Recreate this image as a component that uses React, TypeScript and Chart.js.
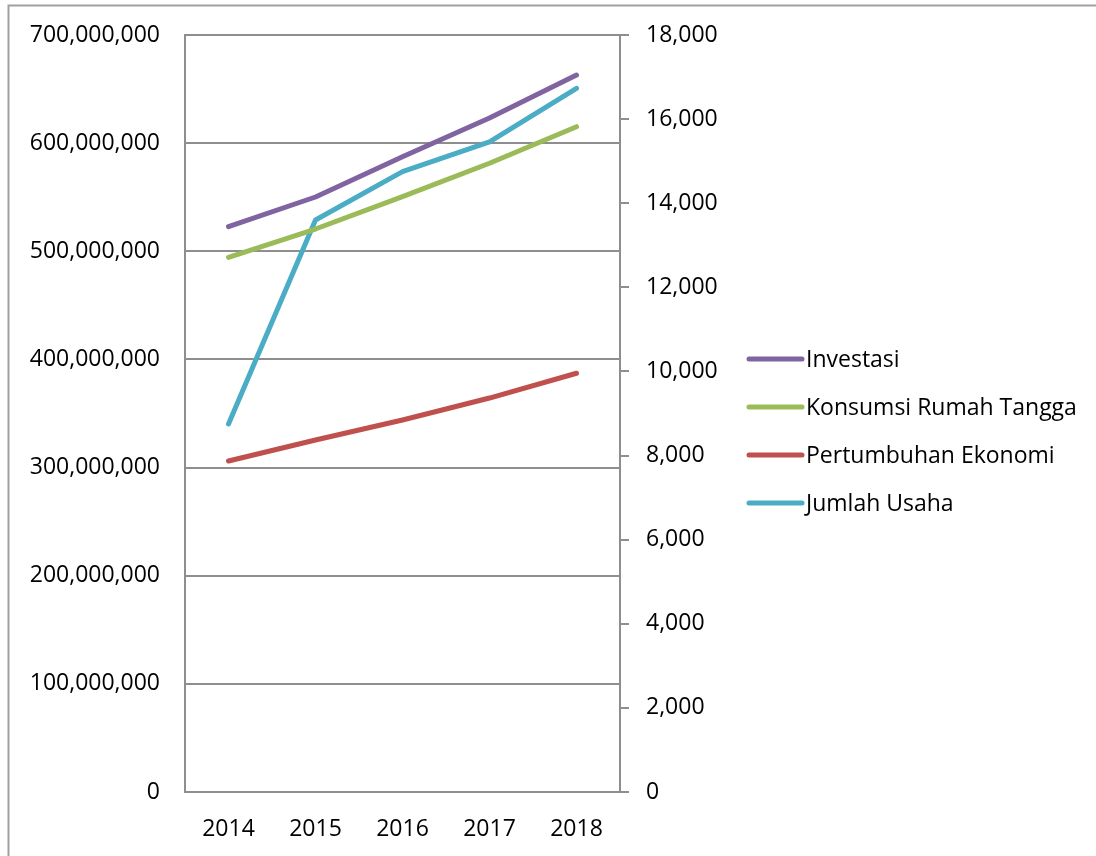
import React, { useEffect, useRef } from "react";
import { Chart, registerables } from "chart.js";

Chart.register(...registerables);

const years = ["2014", "2015", "2016", "2017", "2018"];
const investasi = [522700000, 550200000, 587500000, 623300000, 663000000];
const konsumsi = [494400000, 520600000, 550500000, 581400000, 615200000];
const pertumbuhan = [306100000, 325500000, 344000000, 364300000, 387200000];
const jumlahUsaha = [8750, 13600, 14750, 15460, 16730];

const seriesNames = ["Investasi", "Konsumsi Rumah Tangga", "Pertumbuhan Ekonomi", "Jumlah Usaha"];
const seriesColors = ["#8064A2", "#9BBB59", "#C0504D", "#4BACC6"];

const FONT = "'Open Sans', 'Noto Sans', sans-serif";
const GRID = "#8e8e8e";

const fmt = (v: number) => Number(v).toLocaleString("en-US");

const framePlugin = {
  id: "frame",
  beforeDraw(chart: any) {
    const ctx = chart.ctx;
    ctx.save();
    ctx.fillStyle = "#ffffff";
    ctx.fillRect(0, 0, chart.width, chart.height);
    ctx.strokeStyle = "#a0a0a0";
    ctx.lineWidth = 2;
    ctx.strokeRect(8.5, 5.5, chart.width + 20, chart.height + 20);
    ctx.restore();
  },
};

const legendPlugin = {
  id: "customLegend",
  afterDraw(chart: any) {
    const ctx = chart.ctx;
    ctx.save();
    const x0 = 749;
    const x1 = 802;
    const top = 359;
    const gap = 48;
    ctx.font = `23px ${FONT}`;
    ctx.textBaseline = "middle";
    ctx.textAlign = "left";
    chart.data.datasets.forEach((ds: any, i: number) => {
      const y = top + i * gap;
      ctx.strokeStyle = ds.borderColor;
      ctx.lineWidth = 5;
      ctx.lineCap = "round";
      ctx.beginPath();
      ctx.moveTo(x0, y);
      ctx.lineTo(x1, y);
      ctx.stroke();
      ctx.fillStyle = "#000000";
      ctx.fillText(ds.label, 806, y + 1);
    });
    ctx.restore();
  },
};

const noPadV = (w: number) => (scale: any) => {
  scale.width = w;
  scale.paddingTop = 0;
  scale.paddingBottom = 0;
};

export default function App() {
  const canvasRef = useRef<HTMLCanvasElement | null>(null);

  useEffect(() => {
    document.body.style.margin = "0";
    document.body.style.overflow = "hidden";
    const canvas = canvasRef.current;
    if (!canvas) return;
    const mk = (label: string, data: number[], color: string, axis: string) => ({
      label,
      data,
      borderColor: color,
      backgroundColor: color,
      borderWidth: 5,
      borderCapStyle: "round",
      borderJoinStyle: "round",
      pointRadius: 0,
      pointHoverRadius: 0,
      tension: 0,
      yAxisID: axis,
    });
    const chart = new Chart(canvas, {
      type: "line",
      data: {
        labels: years,
        datasets: [
          mk(seriesNames[0], investasi, seriesColors[0], "y"),
          mk(seriesNames[1], konsumsi, seriesColors[1], "y"),
          mk(seriesNames[2], pertumbuhan, seriesColors[2], "y"),
          mk(seriesNames[3], jumlahUsaha, seriesColors[3], "y1"),
        ] as any,
      },
      options: {
        responsive: false,
        animation: false,
        events: [],
        layout: {
          autoPadding: false,
          padding: { top: 35, left: 0, right: 326, bottom: 0 },
        } as any,
        plugins: {
          legend: { display: false },
          tooltip: { enabled: false },
        },
        scales: {
          x: {
            type: "category",
            offset: true,
            grid: { display: false, drawTicks: false },
            border: { display: true, color: GRID, width: 2 },
            ticks: {
              color: "#000000",
              font: { family: FONT, size: 23 },
              padding: 24,
              maxRotation: 0,
            },
            afterFit(scale: any) {
              scale.height = 64;
              scale.paddingLeft = 0;
              scale.paddingRight = 0;
            },
          },
          y: {
            type: "linear",
            position: "left",
            min: 0,
            max: 700000000,
            grid: { color: GRID, lineWidth: 2, drawTicks: false },
            border: { display: true, color: GRID, width: 2 },
            ticks: {
              stepSize: 100000000,
              color: "#000000",
              font: { family: FONT, size: 23 },
              padding: 25,
              callback: (v: any) => fmt(v),
            },
            afterFit: noPadV(185),
          },
          y1: {
            type: "linear",
            position: "right",
            min: 0,
            max: 18000,
            grid: { drawOnChartArea: false, color: GRID, lineWidth: 2, drawTicks: true, tickLength: 9 },
            border: { display: true, color: GRID, width: 2 },
            ticks: {
              stepSize: 2000,
              color: "#000000",
              font: { family: FONT, size: 23 },
              padding: 17,
              callback: (v: any) => fmt(v),
            },
            afterFit: noPadV(150),
          },
        } as any,
      },
      plugins: [framePlugin, legendPlugin],
    });
    return () => chart.destroy();
  }, []);

  return (
    <div style={{ position: "fixed", left: 0, top: 0, width: 1096, height: 856 }}>
      <canvas ref={canvasRef} width={1096} height={856} style={{ display: "block" }} />
    </div>
  );
}
